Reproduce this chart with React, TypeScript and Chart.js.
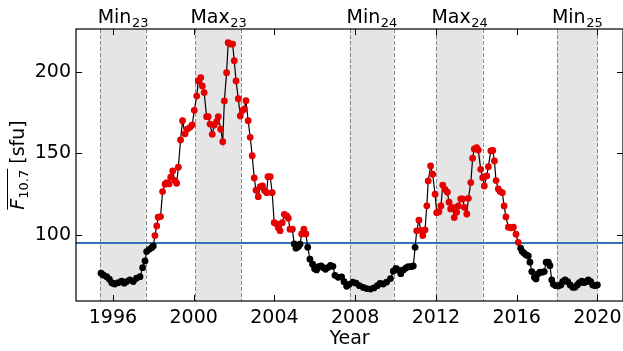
import React, { useEffect, useRef } from "react";
import { Chart, registerables } from "chart.js";
Chart.register(...registerables);

const years = [
  1995.41, 1995.52, 1995.69, 1995.82, 1995.94, 1996.02, 1996.1, 1996.26, 1996.43, 1996.56, 1996.68, 1996.84,
  1997.01, 1997.17, 1997.34, 1997.47, 1997.59, 1997.67, 1997.8, 1997.92, 1998.0, 1998.08, 1998.17, 1998.24,
  1998.36, 1998.46, 1998.58, 1998.66, 1998.78, 1998.86, 1998.96, 1999.07, 1999.16, 1999.24, 1999.35, 1999.45,
  1999.57, 1999.68, 1999.82, 1999.93, 2000.03, 2000.15, 2000.23, 2000.35, 2000.43, 2000.52, 2000.64, 2000.72,
  2000.81, 2000.92, 2001.02, 2001.14, 2001.22, 2001.34, 2001.44, 2001.52, 2001.63, 2001.71, 2001.83, 2001.93,
  2002.01, 2002.1, 2002.21, 2002.31, 2002.41, 2002.51, 2002.59, 2002.7, 2002.8, 2002.9, 2003.0, 2003.09,
  2003.2, 2003.3, 2003.41, 2003.51, 2003.62, 2003.68, 2003.79, 2003.89, 2003.99, 2004.11, 2004.19, 2004.28,
  2004.39, 2004.49, 2004.61, 2004.69, 2004.77, 2004.89, 2004.98, 2005.07, 2005.18, 2005.27, 2005.35, 2005.46,
  2005.56, 2005.65, 2005.76, 2005.89, 2005.99, 2006.09, 2006.19, 2006.31, 2006.42, 2006.53, 2006.67, 2006.78,
  2006.9, 2007.0, 2007.16, 2007.33, 2007.45, 2007.58, 2007.71, 2007.88, 2008.04, 2008.21, 2008.4, 2008.57,
  2008.76, 2008.93, 2009.1, 2009.23, 2009.39, 2009.56, 2009.75, 2009.89, 2010.02, 2010.14, 2010.26, 2010.39,
  2010.52, 2010.63, 2010.77, 2010.88, 2010.97, 2011.05, 2011.16, 2011.25, 2011.35, 2011.46, 2011.55, 2011.62,
  2011.74, 2011.84, 2011.96, 2012.04, 2012.15, 2012.25, 2012.34, 2012.45, 2012.57, 2012.65, 2012.73, 2012.83,
  2012.91, 2013.03, 2013.11, 2013.23, 2013.33, 2013.41, 2013.53, 2013.61, 2013.73, 2013.82, 2013.9, 2014.02,
  2014.1, 2014.22, 2014.32, 2014.4, 2014.52, 2014.6, 2014.72, 2014.82, 2014.9, 2014.98, 2015.09, 2015.18,
  2015.29, 2015.38, 2015.47, 2015.59, 2015.72, 2015.84, 2015.97, 2016.08, 2016.2, 2016.28, 2016.37, 2016.47,
  2016.58, 2016.66, 2016.75, 2016.88, 2016.96, 2017.05, 2017.16, 2017.27, 2017.37, 2017.46, 2017.57, 2017.65,
  2017.74, 2017.82, 2017.94, 2018.07, 2018.19, 2018.28, 2018.4, 2018.53, 2018.65, 2018.78, 2018.89, 2019.01,
  2019.11, 2019.23, 2019.34, 2019.44, 2019.55, 2019.67, 2019.77, 2019.88, 2020.0,
];

const flux = [
  76.8, 75.7, 74.7, 73.1, 71.0, 70.5, 70.2, 71.0, 72.0, 70.7, 71.7, 72.7,
  71.7, 73.7, 74.7, 80.2, 84.3, 90.0, 91.4, 92.4, 93.5, 99.8, 105.7, 111.0,
  111.4, 126.7, 131.2, 132.2, 131.4, 135.5, 139.3, 133.4, 131.8, 141.6, 158.3, 170.0,
  162.0, 164.8, 166.0, 167.5, 176.4, 185.1, 194.3, 196.3, 191.3, 187.2, 172.5, 172.5,
  168.0, 161.7, 167.4, 169.4, 172.5, 164.8, 157.2, 182.1, 199.4, 217.7, 216.9, 216.9,
  206.7, 194.3, 183.5, 172.9, 176.2, 177.2, 182.3, 170.0, 159.9, 148.6, 135.0, 127.5,
  123.6, 129.7, 130.1, 127.3, 126.0, 135.8, 135.8, 126.0, 107.7, 106.9, 104.6, 102.8,
  107.7, 112.8, 111.8, 110.4, 103.7, 103.7, 94.7, 92.1, 93.0, 94.5, 100.8, 103.7,
  100.8, 92.7, 85.4, 82.3, 79.5, 78.8, 80.8, 81.3, 80.2, 79.2, 80.4, 81.6,
  81.0, 75.5, 74.3, 74.5, 71.6, 68.8, 70.0, 71.4, 70.7, 69.2, 68.1, 67.4,
  67.1, 67.8, 69.2, 70.6, 70.2, 71.4, 73.5, 78.0, 79.8, 78.8, 76.5, 78.8,
  80.0, 80.8, 80.8, 81.2, 92.6, 102.7, 109.2, 103.0, 99.8, 103.2, 118.0, 133.2,
  142.4, 137.3, 125.1, 113.8, 114.4, 117.9, 130.7, 128.1, 126.3, 120.2, 116.1, 117.1,
  110.8, 114.1, 117.9, 122.2, 122.2, 117.1, 113.0, 122.6, 132.2, 147.1, 152.8, 153.6,
  152.1, 140.3, 135.2, 130.1, 136.3, 141.9, 151.6, 151.8, 145.4, 133.4, 128.3, 126.7,
  126.0, 117.9, 111.2, 104.9, 104.6, 104.9, 100.6, 95.7, 92.1, 90.0, 89.0, 88.0,
  87.3, 83.5, 77.8, 74.3, 73.3, 76.3, 77.4, 77.4, 77.8, 83.5, 83.5, 81.4,
  72.7, 70.0, 69.2, 69.0, 69.6, 71.6, 72.7, 71.6, 69.6, 68.2, 68.2, 69.6,
  71.0, 72.0, 71.0, 71.6, 72.7, 71.6, 69.6, 69.2, 69.6,
];

const threshold = 95.3;
const xTicks = [1996, 2000, 2004, 2008, 2012, 2016, 2020];
const yTicks = [100, 150, 200];
const regionNames = ["Min", "Max", "Min", "Max", "Min"];
const regionCycles = ["23", "23", "24", "24", "25"];
const regionStarts = [1995.36, 2000.08, 2007.73, 2012.01, 2017.99];
const regionEnds = [1997.62, 2002.36, 2009.91, 2014.31, 2020.0];
const xMin = 1994.17;
const xMax = 2021.27;
const yMin = 59.8;
const yMax = 226.1;
const xTitle = "Year";
const yMain = "F";
const ySub = "10.7";
const yUnit = " [sfu]";

const FONT = '"DejaVu Sans", sans-serif';

const decor = {
  id: "decor",
  beforeDatasetsDraw(chart: any) {
    const { ctx, chartArea: a, scales } = chart;
    const x = scales.x;
    ctx.save();
    for (let i = 0; i < regionStarts.length; i++) {
      const x0 = x.getPixelForValue(regionStarts[i]);
      const x1 = x.getPixelForValue(regionEnds[i]);
      ctx.fillStyle = "#e5e5e5";
      ctx.fillRect(x0, a.top, x1 - x0, a.bottom - a.top);
      ctx.strokeStyle = "#8a8a8a";
      ctx.lineWidth = 1;
      ctx.setLineDash([4, 2]);
      for (const xx of [x0, x1]) {
        ctx.beginPath();
        ctx.moveTo(Math.round(xx) + 0.5, a.top);
        ctx.lineTo(Math.round(xx) + 0.5, a.bottom);
        ctx.stroke();
      }
    }
    ctx.restore();
  },
  afterDraw(chart: any) {
    const { ctx, chartArea: a, scales } = chart;
    const x = scales.x;
    const y = scales.y;
    ctx.save();
    ctx.strokeStyle = "#000";
    ctx.lineWidth = 1.2;
    ctx.setLineDash([]);
    ctx.strokeRect(a.left, a.top, a.right - a.left, a.bottom - a.top);
    const tl = 6;
    ctx.lineWidth = 1;
    for (const v of xTicks) {
      const px = Math.round(x.getPixelForValue(v)) + 0.5;
      ctx.beginPath();
      ctx.moveTo(px, a.bottom);
      ctx.lineTo(px, a.bottom - tl);
      ctx.moveTo(px, a.top);
      ctx.lineTo(px, a.top + tl);
      ctx.stroke();
    }
    for (const v of yTicks) {
      const py = Math.round(y.getPixelForValue(v)) + 0.5;
      ctx.beginPath();
      ctx.moveTo(a.left, py);
      ctx.lineTo(a.left + tl, py);
      ctx.moveTo(a.right, py);
      ctx.lineTo(a.right - tl, py);
      ctx.stroke();
    }
    ctx.fillStyle = "#000";
    ctx.textAlign = "left";
    ctx.textBaseline = "alphabetic";
    for (let i = 0; i < regionNames.length; i++) {
      const cx = (x.getPixelForValue(regionStarts[i]) + x.getPixelForValue(regionEnds[i])) / 2;
      ctx.font = `19px ${FONT}`;
      const w1 = ctx.measureText(regionNames[i]).width;
      ctx.font = `13px ${FONT}`;
      const w2 = ctx.measureText(regionCycles[i]).width;
      const sx = cx - (w1 + w2) / 2;
      ctx.font = `19px ${FONT}`;
      ctx.fillText(regionNames[i], sx, a.top - 6.5);
      ctx.font = `13px ${FONT}`;
      ctx.fillText(regionCycles[i], sx + w1 + 0.5, a.top - 2.5);
    }
    ctx.font = `19px ${FONT}`;
    ctx.textAlign = "center";
    ctx.fillText(xTitle, (a.left + a.right) / 2, 344);
    ctx.save();
    ctx.translate(24, (a.top + a.bottom) / 2);
    ctx.rotate(-Math.PI / 2);
    ctx.textAlign = "left";
    ctx.font = `italic 19px ${FONT}`;
    const wF = ctx.measureText(yMain).width;
    ctx.font = `13px ${FONT}`;
    const wS = ctx.measureText(ySub).width;
    ctx.font = `19px ${FONT}`;
    const wU = ctx.measureText(yUnit).width;
    const total = wF + wS + wU;
    let cx = -total / 2;
    ctx.font = `italic 19px ${FONT}`;
    ctx.fillText(yMain, cx, 0);
    cx += wF;
    ctx.font = `13px ${FONT}`;
    ctx.fillText(ySub, cx, 4);
    cx += wS;
    ctx.font = `19px ${FONT}`;
    ctx.fillText(yUnit, cx, 0);
    ctx.lineWidth = 1;
    ctx.beginPath();
    ctx.moveTo(-total / 2, -16.5);
    ctx.lineTo(-total / 2 + wF + wS + 1, -16.5);
    ctx.stroke();
    ctx.restore();
    ctx.restore();
  },
};

export default function App() {
  const ref = useRef<HTMLCanvasElement | null>(null);
  useEffect(() => {
    document.body.style.margin = "0";
    const canvas = ref.current!;
    const chart = new Chart(canvas, {
      type: "line",
      data: {
        datasets: [
          {
            data: years.map((v, i) => ({ x: v, y: flux[i] })),
            borderColor: "#000",
            borderWidth: 1.2,
            pointRadius: 3.4,
            pointHoverRadius: 3.4,
            pointBorderWidth: 0,
            pointBackgroundColor: (c: any) => (c.raw && c.raw.y > threshold ? "#e60000" : "#000"),
            tension: 0,
          },
          {
            data: [
              { x: xMin, y: threshold },
              { x: xMax, y: threshold },
            ],
            borderColor: "#3274b8",
            borderWidth: 2,
            pointRadius: 0,
            pointHoverRadius: 0,
          },
        ],
      },
      options: {
        animation: false,
        responsive: false,
        events: [],
        layout: { autoPadding: false, padding: { top: 29, right: 0, left: 0, bottom: 0 } },
        plugins: { legend: { display: false }, tooltip: { enabled: false } },
        scales: {
          x: {
            type: "linear",
            min: xMin,
            max: xMax,
            grid: { display: false, drawTicks: false },
            border: { display: false },
            ticks: {
              padding: 6,
              color: "#000",
              font: { family: FONT, size: 19 },
              callback: (v: any) => String(v),
            },
            afterBuildTicks: (s: any) => {
              s.ticks = xTicks.map((v) => ({ value: v }));
            },
            afterFit: (s: any) => {
              s.height = 50;
              s.paddingLeft = 0;
              s.paddingRight = 0;
            },
          },
          y: {
            type: "linear",
            min: yMin,
            max: yMax,
            grid: { display: false, drawTicks: false },
            border: { display: false },
            ticks: {
              padding: 5,
              color: "#000",
              font: { family: FONT, size: 19 },
              callback: (v: any) => String(v),
            },
            afterBuildTicks: (s: any) => {
              s.ticks = yTicks.map((v) => ({ value: v }));
            },
            afterFit: (s: any) => {
              s.width = 76;
              s.paddingTop = 0;
              s.paddingBottom = 0;
            },
          },
        },
      },
      plugins: [decor],
    });
    return () => chart.destroy();
  }, []);
  return (
    <div style={{ position: "fixed", left: 0, top: 0, width: 623, height: 351, background: "#fff" }}>
      <canvas ref={ref} width={623} height={351} style={{ display: "block" }} />
    </div>
  );
}
